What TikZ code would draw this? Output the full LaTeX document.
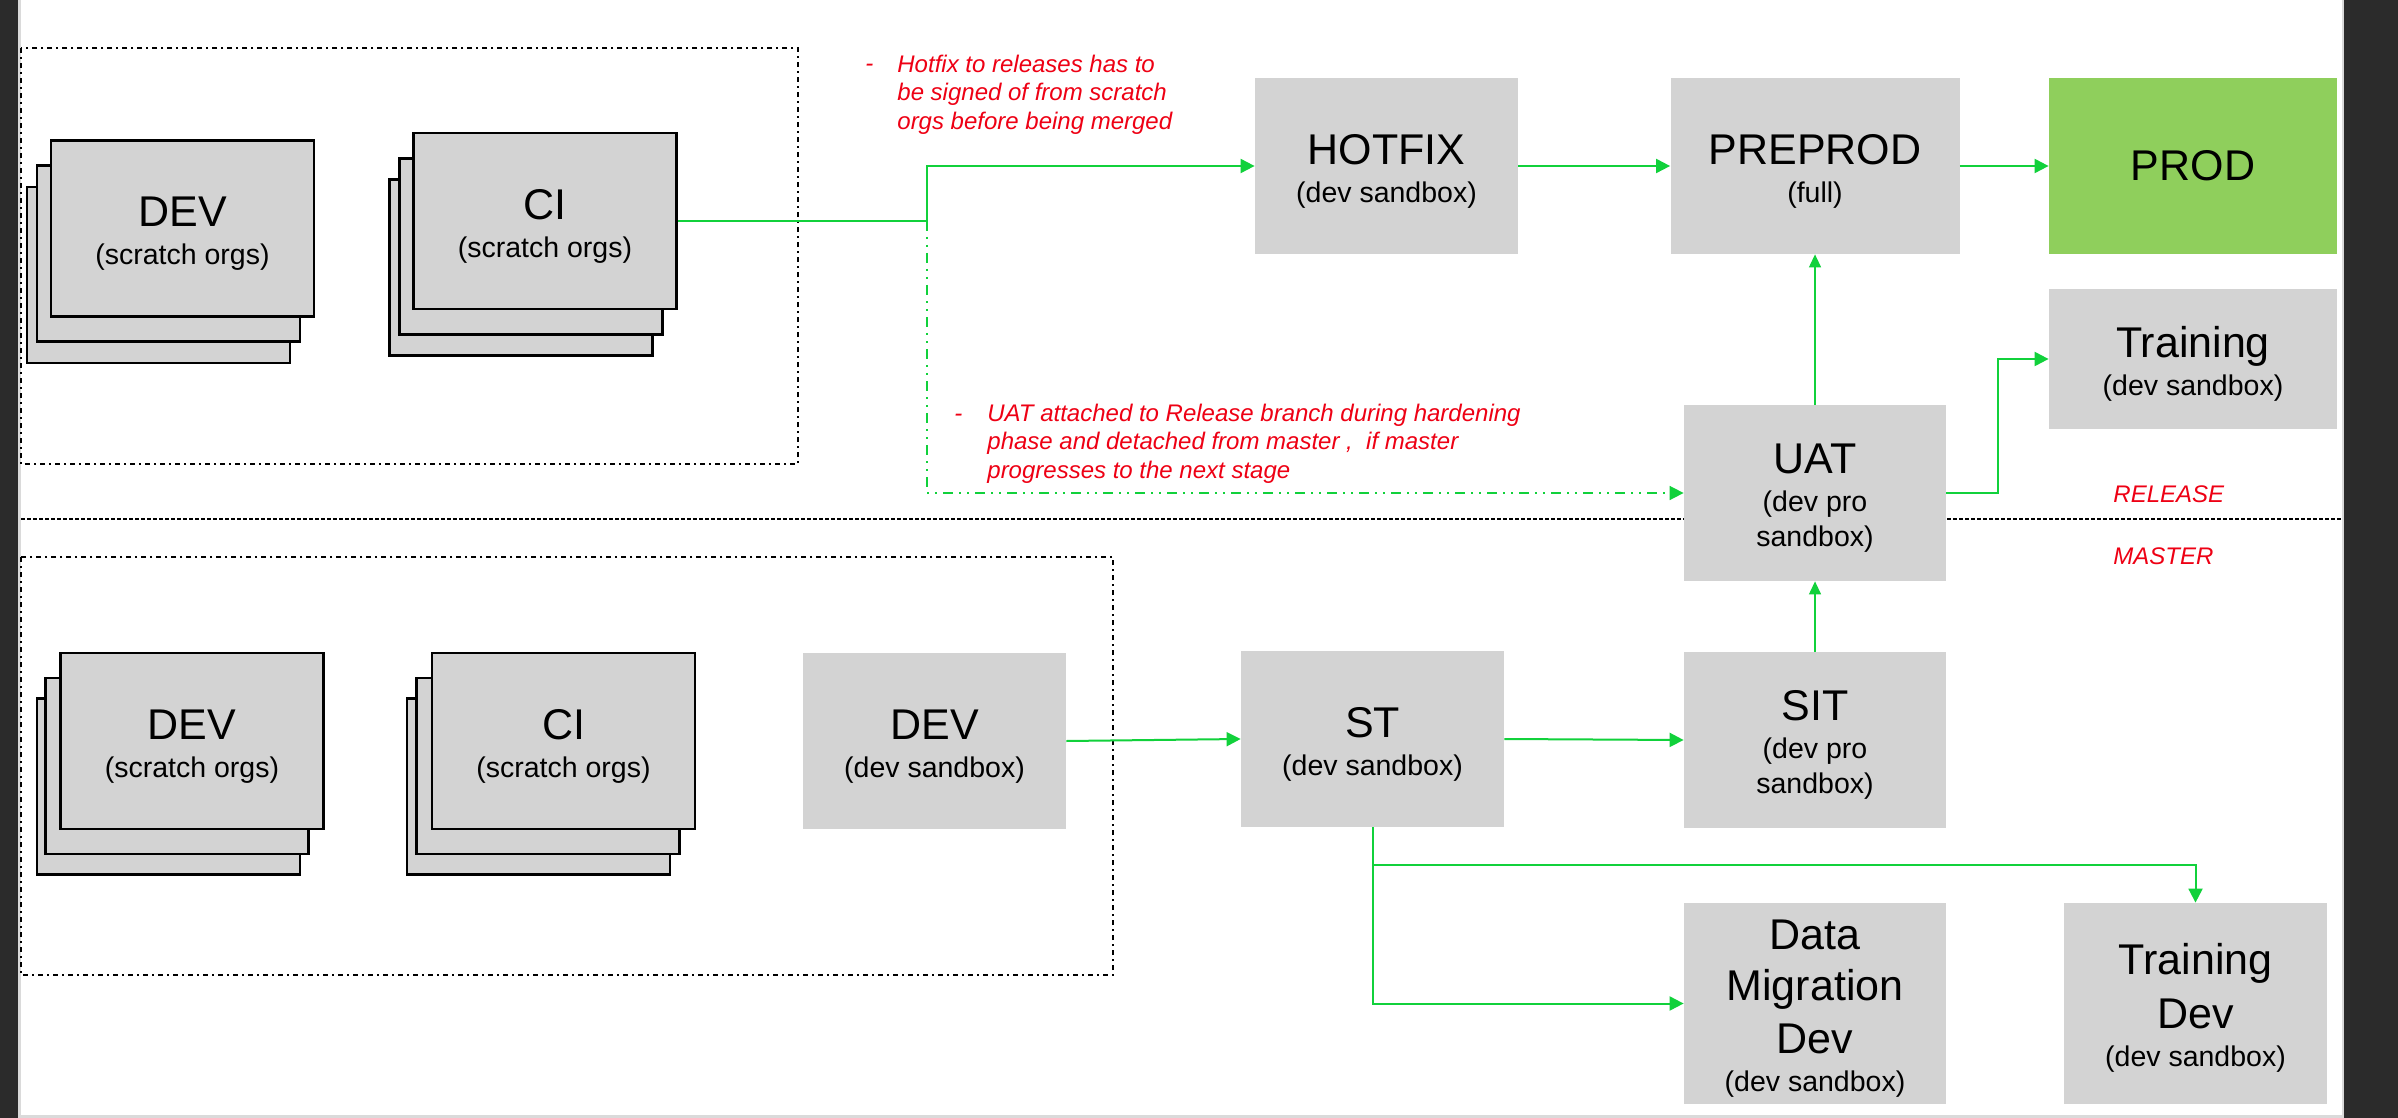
\documentclass[tikz,border=0pt]{standalone}
\usepackage{fontspec}
\setmainfont{Liberation Sans}
\usetikzlibrary{arrows.meta}
\definecolor{boxgray}{RGB}{211,211,211}
\definecolor{lgreen}{RGB}{17,209,59}
\definecolor{prodgreen}{RGB}{143,207,92}
\definecolor{notered}{RGB}{238,0,20}
\definecolor{darkbar}{RGB}{43,43,43}
\definecolor{edgegray}{RGB}{218,218,218}
\newcommand{\ttl}[1]{{\fontsize{21.5}{19}\selectfont #1}}
\newcommand{\ttlf}[1]{{\fontsize{21.5}{19}\selectfont\rule{0pt}{20pt}#1}}
\begin{document}
\begin{tikzpicture}[x=0.5pt,y=-0.5pt,
  box/.style={fill=boxgray, inner sep=0pt, align=center,
    font=\fontsize{14.25}{19}\selectfont,
    minimum width=131.5pt, minimum height=88pt},
  stackbox/.style={box, draw=black, line width=1.2pt},
  flow/.style={draw=lgreen, line width=1pt, -{Triangle[length=7pt,width=7pt]}},
  thinflow/.style={draw=lgreen, line width=0.6pt, -{Triangle[length=6.5pt,width=6pt]}},
  dashflow/.style={flow, line width=0.8pt, dash pattern=on 5pt off 3pt on 1pt off 3pt on 1pt off 3pt},
  note/.style={text=notered, font=\fontsize{12}{14.25}\selectfont\itshape, inner sep=0pt},
  region/.style={draw=black, line width=1pt, dash pattern=on 2.5pt off 2pt on 1pt off 2pt},
]
\useasboundingbox (0,0) rectangle (2398,1118);
% page background
\fill[white] (0,0) rectangle (2398,1118);
\fill[darkbar] (0,0) rectangle (18,1118);
\fill[edgegray] (18,0) rectangle (21,1118);
\fill[darkbar] (2343.5,0) rectangle (2398,1118);
\fill[edgegray] (2341.5,0) rectangle (2343.5,1118);
\fill[edgegray] (21,1115) rectangle (2341.5,1118);

% regions and separator
\draw[region] (21,48) rectangle (798,464);
\draw[region] (21,557) rectangle (1113,975);
\draw[black, line width=0.7pt, dash pattern=on 2pt off 1pt] (21,519) -- (2341,519);

% top stacks
\node[stackbox] (devTc) at (158.5,275) {};
\node[stackbox] (devTb) at (168.5,253.5) {};
\node[stackbox] (devT) at (182.5,228.5) {\ttlf{DEV}\\(scratch orgs)};
\node[stackbox] (ciTc) at (521,267.5) {};
\node[stackbox] (ciTb) at (531,246.5) {};
\node[stackbox] (ciT) at (545,221) {\ttlf{CI}\\(scratch orgs)};

% bottom stacks
\node[stackbox] (devBc) at (168.5,786.5) {};
\node[stackbox] (devBb) at (177,766) {};
\node[stackbox] (devB) at (192,741) {\ttlf{DEV}\\(scratch orgs)};
\node[stackbox] (ciBc) at (538.5,786.5) {};
\node[stackbox] (ciBb) at (548,766) {};
\node[stackbox] (ciB) at (563.5,741) {\ttlf{CI}\\(scratch orgs)};

% environment boxes
\node[box] (devS) at (934.5,741) {\ttlf{DEV}\\(dev sandbox)};
\node[box] (HOTFIX) at (1386.5,166) {\ttlf{HOTFIX}\\(dev sandbox)};
\node[box, minimum width=144.5pt] (PREPROD) at (1815,166) {\ttlf{PREPROD}\\(full)};
\node[box, minimum width=144pt, fill=prodgreen] (PROD) at (2193,166) {\ttl{PROD}};
\node[box, minimum width=144pt, minimum height=70pt] (Training) at (2193,359) {\ttlf{Training}\\(dev sandbox)};
\node[box, minimum width=131pt] (UAT) at (1815,493) {\ttlf{UAT}\\(dev pro\\[-1.5pt]sandbox)};
\node[box] (ST) at (1372.5,739) {\ttlf{ST}\\(dev sandbox)};
\node[box, minimum width=131pt] (SIT) at (1815,740) {\ttlf{SIT}\\(dev pro\\[-1.5pt]sandbox)};
\node[box, minimum width=131pt, minimum height=100.5pt] (DMD) at (1815,1003.5)
  {\ttlf{Data}\\[6.5pt]\ttl{Migration}\\[6.5pt]\ttl{Dev}\\(dev sandbox)};
\node[box, minimum height=100.5pt] (TD) at (2195.5,1003.5)
  {\ttlf{Training}\\[6.5pt]\ttl{Dev}\\(dev sandbox)};

% junction points
\coordinate (jA) at (927,221);
\coordinate (jC) at (1998,493);
\coordinate (jD) at (1372.5,865);

% connectors
\draw[flow] (ciT.east) -- (jA) |- (HOTFIX.west);
\draw[dashflow] (jA) |- (UAT.west);
\draw[flow] (HOTFIX) -- (PREPROD);
\draw[flow] (PREPROD) -- (PROD);
\draw[thinflow] (UAT) -- (PREPROD);
\draw[flow] (UAT.east) -- (jC) |- (Training.west);
\draw[thinflow] (SIT) -- (UAT);
\draw[flow] (devS.east) -- (ST.west);
\draw[flow] (ST.east) -- (SIT.west);
\draw[flow] (ST.south) -- (jD) -| (TD.north);
\draw[flow] (jD) |- (DMD.west);

% notes
\node[note, anchor=base west] (hfdash) at (865,72) {-};
\node[note, anchor=north west, align=left] (hfnote) at (897,54.5)
  {Hotfix to releases has to\\be signed of from scratch\\orgs before being merged};
\node[note, anchor=base west] (uatdash) at (954,421) {-};
\node[note, anchor=north west, align=left] (uatnote) at (987,403.5)
  {UAT attached to Release branch during hardening\\phase and detached from master ,\ \ if master\\progresses to the next stage};
\node[note, anchor=west] (rel) at (2113,494) {RELEASE};
\node[note, anchor=west] (mas) at (2113,556) {MASTER};
\end{tikzpicture}
\end{document}
